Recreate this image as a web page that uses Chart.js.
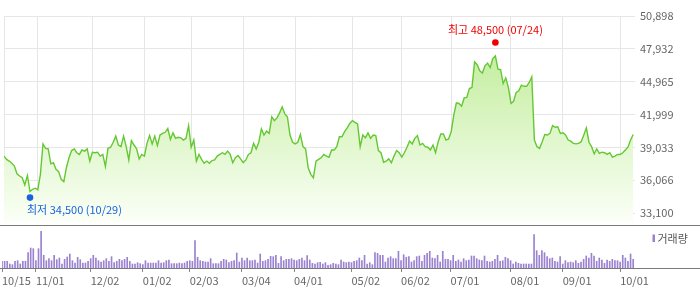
<!DOCTYPE html>
<html><head><meta charset="utf-8">
<script src="https://cdn.jsdelivr.net/npm/chart.js@4.4.1/dist/chart.umd.min.js"></script>
<style>
html,body{margin:0;padding:0;background:#fff;}
#wrap{position:relative;width:700px;height:289px;overflow:hidden;}
canvas{position:absolute;left:0;}
#cPrice{top:0;}
#cVol{top:226px;}
</style></head><body>
<div id="wrap"><canvas id="cPrice" width="700" height="226"></canvas><canvas id="cVol" width="700" height="63"></canvas></div>
<script>
// daily closing prices (trading days, 10/15 .. early October)
const closePrices = [
38250,37950,37800,37600,37350,36650,36450,36300,35650,36500,
35050,35250,35350,35200,36600,39350,38950,38900,37550,37650,
37050,36850,36150,35950,37200,38100,38750,38900,38550,38400,
38800,38700,38900,37800,38600,38550,38600,38250,38400,37300,
38950,39050,39500,40050,39250,39100,40050,39100,37900,39650,
39250,38900,38000,38400,38250,39400,40100,39350,40050,39200,
40150,40300,40400,40750,39750,40350,39850,39950,39900,39700,
39850,41000,39050,39700,37800,38400,37950,37600,37800,37600,
37850,37900,38250,38400,38550,38400,38700,38400,37650,38100,
38300,38000,37650,37900,38400,38550,39400,38900,39500,40700,
40150,40500,40300,41800,41450,41700,42150,42700,42050,41800,
40150,39500,39350,39500,40200,39100,38900,37200,36600,36300,
37800,37950,38100,38400,38250,38150,38800,38800,39100,40000,
40000,40450,40800,41200,41450,41300,41150,39100,40150,39900,
40350,39850,40150,40100,38750,38550,37700,37800,38000,37650,
38250,38750,38550,38150,38550,39050,39600,39350,39850,40100,
39250,39400,39100,39050,38800,39250,38550,39550,40250,40250,
39700,39800,40450,41950,43050,43000,42750,43500,43550,44350,
44450,46750,46500,45950,45750,46400,46650,46250,47050,47300,
46100,46050,44800,45300,44450,43000,43200,44000,44150,44650,
44550,44550,44900,45400,39700,39100,38950,39550,40200,40150,
40300,41000,40850,40900,40300,40350,40150,39700,39600,39400,
39350,39400,39550,40150,40800,39500,39100,38450,38900,38500,
38600,38550,38400,38550,38150,38250,38400,38400,38550,38800,
39050,39700,40200
];
// daily volume (estimated, relative units)
const volumes = [
200,200,200,120,100,200,220,120,200,200,
460,600,580,220,580,1100,380,220,280,220,
380,250,300,120,260,330,420,220,150,320,
250,150,150,200,280,380,300,220,180,220,
280,200,340,160,200,260,220,260,320,200,
120,120,160,130,100,220,150,150,150,150,
220,150,160,220,240,130,130,130,150,130,
150,200,220,200,820,320,220,200,180,180,
280,130,130,130,200,260,240,160,200,220,
450,180,300,220,300,220,220,240,150,420,
200,220,260,350,340,380,140,340,220,260,
260,280,240,220,260,300,220,370,240,140,
120,160,170,120,160,80,100,140,120,100,
240,180,160,180,160,200,220,300,220,380,
120,160,100,460,440,380,380,180,300,340,
280,280,500,220,400,320,340,180,220,340,
360,200,380,440,500,300,280,380,180,500,
260,260,220,380,200,240,180,280,220,240,
360,360,280,240,220,360,200,180,200,260,
380,200,220,320,280,220,120,180,140,120,
120,120,120,120,1000,520,380,520,460,340,
280,300,200,180,340,120,220,160,180,160,
220,140,180,260,360,300,440,360,200,300,
240,140,240,200,260,220,220,180,380,300,
200,420,260
];
const tickIndex  = [0,13,34,54,72,92,112,134,153,172,195,215,237];
const tickLabels = ['10/15','11/01','12/02','01/02','02/03','03/04','04/01','05/02','06/02','07/01','08/01','09/01','10/01'];
const priceTicks = [33100,36066,39033,41999,44965,47932,50898];
const markerNames  = ['최고','최저'];
const markerValues = [48500,34500];
const markerDates  = ['07/24','10/29'];
const markerIndex  = [189,10];
const volumeLegend = '거래량';

const FONT = "'Noto Sans CJK KR','Noto Sans',sans-serif";
Chart.defaults.font.family = FONT;
Chart.defaults.font.size = 11;
Chart.defaults.animation = false;

const markerColors = ['#f00000','#1862dc'];
const xMax = closePrices.length - 1 + 0.7;
const priceMin = 32299, priceMax = 50898;
const setXTicks = s => { s.ticks = tickIndex.map(v => ({value: v})); };
const labelFor = v => { const k = tickIndex.indexOf(v); return k >= 0 ? tickLabels[k] : ''; };

function hLine(y){
  return { id:'hline', afterDraw(chart){ const c = chart.ctx; c.save(); c.strokeStyle = '#7a7a7a'; c.lineWidth = 1;
    c.beginPath(); c.moveTo(0, y); c.lineTo(chart.width, y); c.stroke(); c.restore(); } };
}

const markerText = {
  id:'markerText',
  afterDatasetsDraw(chart){
    const ctx = chart.ctx;
    markerValues.forEach((v,k) => {
      const p = chart.getDatasetMeta(1 + k).data[0];
      const txt = markerNames[k] + ' ' + v.toLocaleString('en-US') + ' (' + markerDates[k] + ')';
      ctx.save();
      ctx.font = '11px ' + FONT; ctx.fillStyle = markerColors[k]; ctx.textBaseline = 'middle';
      if (k === 0) { ctx.textAlign = 'center'; ctx.fillText(txt, p.x, p.y - 12.5); }
      else { ctx.textAlign = 'left'; ctx.fillText(txt, p.x - 3, p.y + 12.5); }
      ctx.restore();
    });
  }
};

new Chart(document.getElementById('cPrice'), {
  type: 'line',
  data: {
    datasets: [
      { order:2, data: closePrices.map((v,i) => ({x:i, y:v})), borderColor:'#64c832', borderWidth:1.4, pointRadius:0, tension:0,
        fill:'start',
        backgroundColor: (ctx) => { const ca = ctx.chart.chartArea; if (!ca) return '#e2f7d0';
          const g = ctx.chart.ctx.createLinearGradient(0, ca.top, 0, ca.bottom);
          g.addColorStop(0, '#b8ea8c'); g.addColorStop(1, '#fbfff7'); return g; } },
      { order:0, data: [{x: markerIndex[0], y: markerValues[0]}], showLine:false, pointRadius:3.3, pointBackgroundColor:markerColors[0], pointBorderWidth:0 },
      { order:0, data: [{x: markerIndex[1], y: markerValues[1]}], showLine:false, pointRadius:3.3, pointBackgroundColor:markerColors[1], pointBorderWidth:0 }
    ]
  },
  options: {
    responsive:false, animation:false,
    layout:{ padding:{ left:2, right:0, top:16, bottom:1 } },
    plugins:{ legend:{display:false}, tooltip:{enabled:false}, filler:{ drawTime:'beforeDatasetsDraw' } },
    scales:{
      x:{ type:'linear', min:0, max:xMax, afterBuildTicks:setXTicks,
          ticks:{ display:false }, grid:{ color:'#e6e6e6', drawTicks:false }, border:{display:false} },
      y:{ position:'right', min:priceMin, max:priceMax,
          afterBuildTicks: s => { s.ticks = priceTicks.map(v => ({value:v})); },
          afterFit: s => { s.width = 65; s.paddingTop = 0; s.paddingBottom = 0; },
          ticks:{ color:'#666', padding:5, callback: v => v.toLocaleString('en-US') },
          grid:{ color:'#e6e6e6', drawTicks:false }, border:{display:false} }
    }
  },
  plugins:[markerText, hLine(225.5)]
});

const volLegend = {
  id:'volLegend',
  afterDraw(chart){
    const c = chart.ctx; c.save();
    c.fillStyle = '#9a82d0'; c.fillRect(652.5, 8.5, 2.5, 7.5);
    c.fillStyle = '#555'; c.font = '11px ' + FONT; c.textBaseline = 'middle'; c.textAlign = 'left';
    c.fillText(volumeLegend, 657.5, 12.5);
    c.restore();
  }
};

new Chart(document.getElementById('cVol'), {
  type:'bar',
  data:{ datasets:[{ data: volumes.map((v,i) => ({x:i, y:v})), backgroundColor:'#9a82d0', borderWidth:0, barThickness:1 }] },
  options:{
    responsive:false, animation:false,
    layout:{ padding:{ left:2, right:65, top:0, bottom:0 } },
    plugins:{ legend:{display:false}, tooltip:{enabled:false} },
    scales:{
      x:{ type:'linear', min:0, max:xMax, offset:false, afterBuildTicks:setXTicks,
          afterFit: s => { s.height = 21; },
          ticks:{ color:'#666', align:'start', autoSkip:false, maxRotation:0, padding:2, callback: labelFor },
          grid:{ drawOnChartArea:false, drawTicks:true, tickLength:4, color:'#8a8a8a', offset:false },
          border:{display:false} },
      y:{ display:false, min:0, max:1260 }
    }
  },
  plugins:[hLine(42.5), volLegend]
});
</script>
</body></html>
